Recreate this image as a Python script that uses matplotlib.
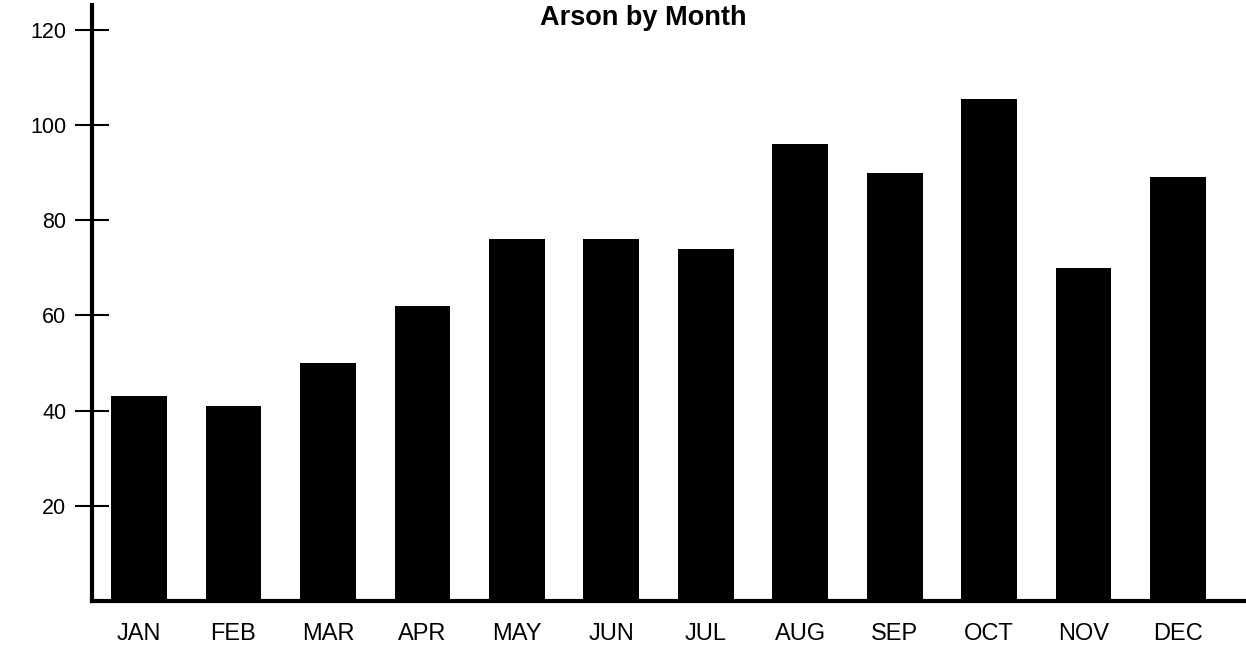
import matplotlib
matplotlib.use("Agg")
import matplotlib.pyplot as plt

plt.rcParams['font.family'] = ['Liberation Sans', 'DejaVu Sans']

months = ["JAN", "FEB", "MAR", "APR", "MAY", "JUN",
          "JUL", "AUG", "SEP", "OCT", "NOV", "DEC"]
arsons = [43, 41, 50, 62, 76, 76, 74, 96, 90, 105.5, 70, 89]
y_ticks = [20, 40, 60, 80, 100, 120]

fig = plt.figure(figsize=(12.46, 6.47), dpi=100)
ax = fig.add_axes([92 / 1246, 46 / 647, 1 - 92 / 1246, 596 / 647])

# barras negras
ax.bar(range(len(months)), arsons, width=0.59, color="black")

ax.set_xlim(-0.498, 11.72)
ax.set_ylim(0, 125.2)

ax.set_xticks(range(len(months)))
ax.set_xticklabels(months, fontsize=17)
ax.tick_params(axis="x", length=0, pad=16)

ax.set_yticks(y_ticks)
ax.set_yticklabels([str(v) for v in y_ticks], fontsize=15.5)
ax.tick_params(axis="y", direction="inout", length=25, width=1.5, pad=6)

for side in ["top", "right"]:
    ax.spines[side].set_visible(False)
ax.spines["left"].set_linewidth(3)
ax.spines["bottom"].set_linewidth(3)

fig.text(0.516, 1 - 18 / 647, "Arson by Month", ha="center", va="center",
         fontsize=19.5, fontweight="bold")

fig.savefig("out.png", dpi=100)
